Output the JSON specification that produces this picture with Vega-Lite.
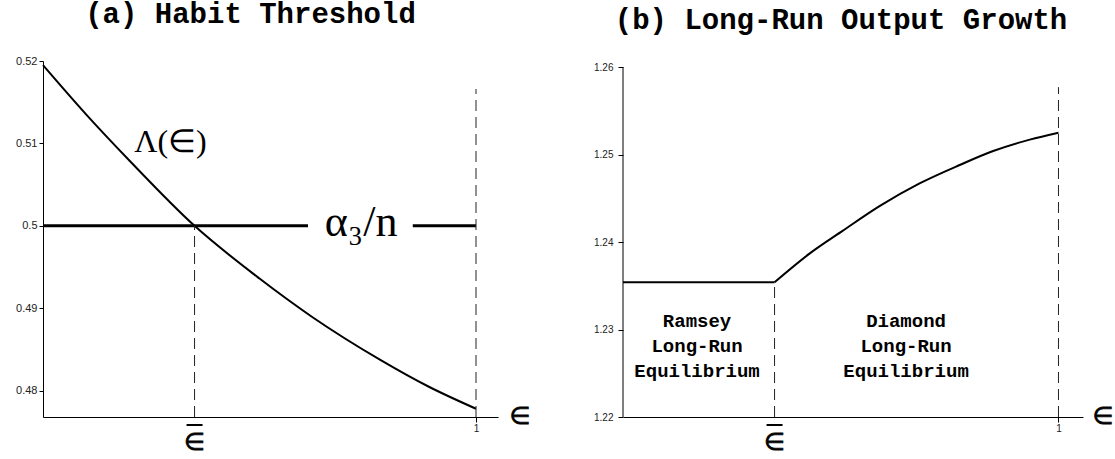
{
  "$schema": "https://vega.github.io/schema/vega-lite/v6.json",
  "padding": {"left": 15, "top": 0, "right": 5, "bottom": 5},
  "spacing": 62,
  "config": {
    "view": {"stroke": null},
    "font": "Liberation Sans",
    "axis": {"domainColor": "#000", "tickColor": "#000", "labelColor": "#222", "grid": false, "title": null, "labelFont": "Liberation Sans"}
  },
  "datasets": {
    "habit": [
      {"e": 0.0, "v": 0.5195},
      {"e": 0.1, "v": 0.5135},
      {"e": 0.2, "v": 0.5079},
      {"e": 0.35, "v": 0.5},
      {"e": 0.5, "v": 0.4936},
      {"e": 0.62, "v": 0.489},
      {"e": 0.78, "v": 0.4837},
      {"e": 0.89, "v": 0.4805},
      {"e": 1.0, "v": 0.4778}
    ],
    "alphaseg": [
      {"x1": 0, "x2": 0.612, "v": 0.5},
      {"x1": 0.854, "x2": 1, "v": 0.5}
    ],
    "adash": [
      {"e": 0.35, "lo": 0.4768, "hi": 0.5},
      {"e": 1, "lo": 0.4768, "hi": 0.5166}
    ],
    "alambda": [{"e": 0.2107, "v": 0.50894, "t": "Λ(∈)"}],
    "aalpha": [{"e": 0.7346, "v": 0.5, "t": "α₃/n"}],
    "aebar": [{"e": 0.35, "v": 0.4768, "t": "∈"}],
    "aeps": [{"e": 1.1015, "v": 0.4768, "t": "∈"}],
    "output": [
      {"e": 0.0, "v": 1.2354, "part": "flat"},
      {"e": 0.348, "v": 1.2354, "part": "flat"},
      {"e": 0.348, "v": 1.2354, "part": "rise"},
      {"e": 0.429, "v": 1.2387, "part": "rise"},
      {"e": 0.505, "v": 1.2413, "part": "rise"},
      {"e": 0.589, "v": 1.2441, "part": "rise"},
      {"e": 0.681, "v": 1.2467, "part": "rise"},
      {"e": 0.773, "v": 1.2488, "part": "rise"},
      {"e": 0.85, "v": 1.2504, "part": "rise"},
      {"e": 0.934, "v": 1.2517, "part": "rise"},
      {"e": 1.0, "v": 1.2525, "part": "rise"}
    ],
    "bdash": [
      {"e": 0.348, "lo": 1.22, "hi": 1.2354},
      {"e": 1, "lo": 1.22, "hi": 1.2577}
    ],
    "baxis": [{"e": 0, "lo": 1.22, "hi": 1.26}],
    "bregions": [
      {"e": 0.17, "v": 1.231, "t": "Ramsey\nLong-Run\nEquilibrium"},
      {"e": 0.65, "v": 1.231, "t": "Diamond\nLong-Run\nEquilibrium"}
    ],
    "bebar": [{"e": 0.348, "v": 1.22, "t": "∈"}],
    "beps": [{"e": 1.102, "v": 1.22, "t": "∈"}]
  },
  "hconcat": [
    {
      "title": {"text": "(a) Habit Threshold", "font": "Liberation Mono", "fontSize": 29, "fontWeight": "bold", "anchor": "middle", "dx": -20, "offset": 26, "color": "#000"},
      "width": 455,
      "height": 356,
      "layer": [
        {
          "data": {"name": "habit"},
          "mark": {"type": "line", "color": "#000", "strokeWidth": 2, "interpolate": "monotone"},
          "encoding": {
            "x": {"field": "e", "type": "quantitative", "scale": {"domain": [0, 1.0508], "nice": false, "zero": false},
                  "axis": {"values": [1], "format": "d", "labelFontSize": 10, "tickSize": 5, "labelPadding": 1}},
            "y": {"field": "v", "type": "quantitative", "scale": {"domain": [0.4768, 0.52], "nice": false, "zero": false},
                  "axis": {"values": [0.48, 0.49, 0.5, 0.51, 0.52], "format": ".2~f", "labelFontSize": 11, "tickSize": 4, "labelPadding": 2}}
          }
        },
        {
          "data": {"name": "alphaseg"},
          "mark": {"type": "rule", "color": "#000", "strokeWidth": 3},
          "encoding": {
            "x": {"field": "x1", "type": "quantitative"},
            "x2": {"field": "x2"},
            "y": {"field": "v", "type": "quantitative"}
          }
        },
        {
          "data": {"name": "adash"},
          "mark": {"type": "rule", "color": "#222", "strokeWidth": 1, "strokeDash": [11, 6]},
          "encoding": {
            "x": {"field": "e", "type": "quantitative"},
            "y": {"field": "lo", "type": "quantitative"},
            "y2": {"field": "hi"}
          }
        },
        {
          "data": {"name": "alambda"},
          "mark": {"type": "text", "font": "Liberation Serif", "fontSize": 32, "align": "left", "baseline": "alphabetic", "color": "#000"},
          "encoding": {
            "x": {"field": "e", "type": "quantitative"},
            "y": {"field": "v", "type": "quantitative"},
            "text": {"field": "t"}
          }
        },
        {
          "data": {"name": "aalpha"},
          "mark": {"type": "text", "font": "Liberation Serif", "fontSize": 44, "align": "center", "baseline": "alphabetic", "dy": 10, "color": "#000"},
          "encoding": {
            "x": {"field": "e", "type": "quantitative"},
            "y": {"field": "v", "type": "quantitative"},
            "text": {"field": "t"}
          }
        },
        {
          "data": {"name": "aebar"},
          "mark": {"type": "tick", "orient": "horizontal", "size": 16, "thickness": 2, "yOffset": 8, "color": "#000", "opacity": 1},
          "encoding": {
            "x": {"field": "e", "type": "quantitative"},
            "y": {"field": "v", "type": "quantitative"}
          }
        },
        {
          "data": {"name": "aebar"},
          "mark": {"type": "text", "font": "DejaVu Sans", "fontSize": 24, "align": "center", "baseline": "top", "dy": 14, "color": "#000", "stroke": "#000", "strokeWidth": 0.7},
          "encoding": {
            "x": {"field": "e", "type": "quantitative"},
            "y": {"field": "v", "type": "quantitative"},
            "text": {"field": "t"}
          }
        },
        {
          "data": {"name": "aeps"},
          "mark": {"type": "text", "font": "DejaVu Sans", "fontSize": 24, "align": "center", "baseline": "middle", "color": "#000", "stroke": "#000", "strokeWidth": 0.7},
          "encoding": {
            "x": {"field": "e", "type": "quantitative"},
            "y": {"field": "v", "type": "quantitative"},
            "text": {"field": "t"}
          }
        }
      ]
    },
    {
      "title": {"text": "(b) Long-Run Output Growth", "font": "Liberation Mono", "fontSize": 29, "fontWeight": "bold", "anchor": "middle", "dx": -12, "offset": 26, "color": "#000"},
      "width": 460,
      "height": 356,
      "layer": [
        {
          "data": {"name": "output"},
          "mark": {"type": "line", "color": "#000", "strokeWidth": 2, "interpolate": "monotone"},
          "encoding": {
            "x": {"field": "e", "type": "quantitative", "scale": {"domain": [0, 1.0563], "nice": false, "zero": false},
                  "axis": {"values": [1], "format": "d", "labelFontSize": 10, "tickSize": 5, "labelPadding": 1}},
            "y": {"field": "v", "type": "quantitative", "scale": {"domain": [1.22, 1.26069], "nice": false, "zero": false},
                  "axis": {"values": [1.22, 1.23, 1.24, 1.25, 1.26], "format": ".2f", "labelFontSize": 10, "tickSize": 5, "labelPadding": 5, "domain": false}},
            "detail": {"field": "part", "type": "nominal"}
          }
        },
        {
          "data": {"name": "baxis"},
          "mark": {"type": "rule", "color": "#000", "strokeWidth": 1},
          "encoding": {
            "x": {"field": "e", "type": "quantitative"},
            "y": {"field": "lo", "type": "quantitative"},
            "y2": {"field": "hi"}
          }
        },
        {
          "data": {"name": "bdash"},
          "mark": {"type": "rule", "color": "#222", "strokeWidth": 1, "strokeDash": [11, 6]},
          "encoding": {
            "x": {"field": "e", "type": "quantitative"},
            "y": {"field": "lo", "type": "quantitative"},
            "y2": {"field": "hi"}
          }
        },
        {
          "data": {"name": "bregions"},
          "mark": {"type": "text", "font": "Liberation Mono", "fontSize": 19, "fontWeight": "bold", "lineBreak": "\n", "lineHeight": 25, "align": "center", "baseline": "middle", "color": "#000"},
          "encoding": {
            "x": {"field": "e", "type": "quantitative"},
            "y": {"field": "v", "type": "quantitative"},
            "text": {"field": "t"}
          }
        },
        {
          "data": {"name": "bebar"},
          "mark": {"type": "tick", "orient": "horizontal", "size": 16, "thickness": 2, "yOffset": 8, "color": "#000", "opacity": 1},
          "encoding": {
            "x": {"field": "e", "type": "quantitative"},
            "y": {"field": "v", "type": "quantitative"}
          }
        },
        {
          "data": {"name": "bebar"},
          "mark": {"type": "text", "font": "DejaVu Sans", "fontSize": 24, "align": "center", "baseline": "top", "dy": 14, "color": "#000", "stroke": "#000", "strokeWidth": 0.7},
          "encoding": {
            "x": {"field": "e", "type": "quantitative"},
            "y": {"field": "v", "type": "quantitative"},
            "text": {"field": "t"}
          }
        },
        {
          "data": {"name": "beps"},
          "mark": {"type": "text", "font": "DejaVu Sans", "fontSize": 24, "align": "center", "baseline": "middle", "color": "#000", "stroke": "#000", "strokeWidth": 0.7},
          "encoding": {
            "x": {"field": "e", "type": "quantitative"},
            "y": {"field": "v", "type": "quantitative"},
            "text": {"field": "t"}
          }
        }
      ]
    }
  ]
}
